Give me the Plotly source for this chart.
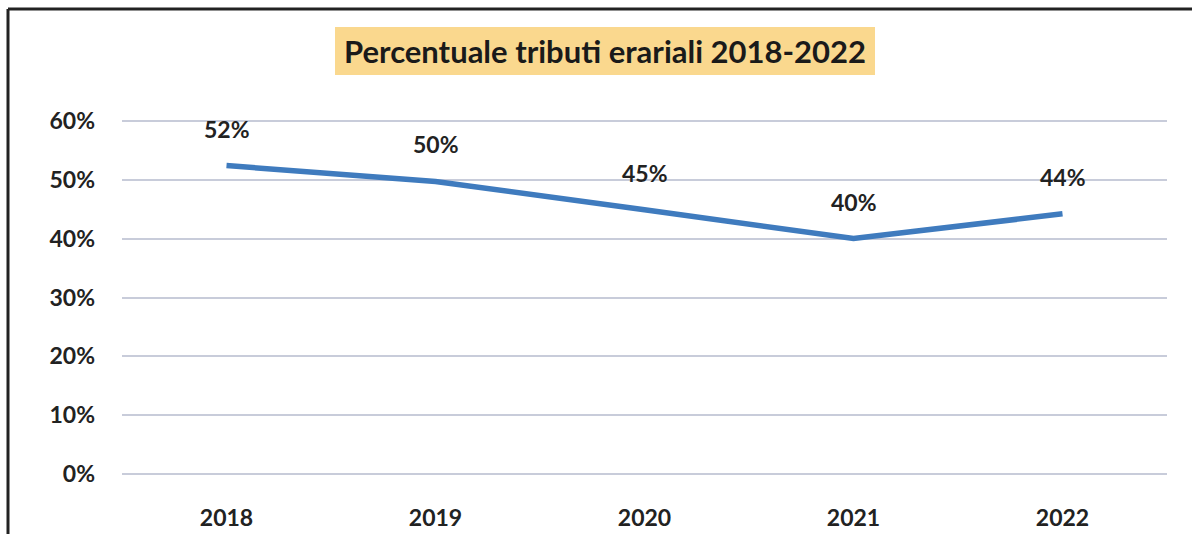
import plotly.graph_objects as go

years = ["2018", "2019", "2020", "2021", "2022"]
values = [0.524, 0.497, 0.449, 0.400, 0.442]
labels = ["52%", "50%", "45%", "40%", "44%"]
y_ticks = [0, 0.1, 0.2, 0.3, 0.4, 0.5, 0.6]
y_tick_text = ["0%", "10%", "20%", "30%", "40%", "50%", "60%"]
title_text = "Percentuale tributi erariali 2018-2022"

W, H = 1192, 534
L, R, T, B = 122, 25, 119, 58
pw, ph = W - L - R, H - T - B

def px_x(x):
    return (x - L) / pw

def px_y(y):
    return 1 + (T - y) / ph

FONT = "Lato, Calibri, Arial, sans-serif"
TXT = "#222222"

fig = go.Figure()
fig.add_trace(go.Scatter(
    x=years, y=values, mode="lines",
    line=dict(color="#3F7BBE", width=5.5),
    hoverinfo="skip", showlegend=False,
))

for i, (yv, t) in enumerate(zip(values, labels)):
    fig.add_annotation(x=i, y=yv, xref="x", yref="y", text=f"<b>{t}</b>",
                       showarrow=False, yshift=37,
                       font=dict(family=FONT, size=23, color=TXT))

# title box
fig.add_shape(type="rect", xref="paper", yref="paper",
              x0=px_x(335), x1=px_x(875), y0=px_y(75), y1=px_y(27),
              fillcolor="#FAD88E", line=dict(width=0), layer="below")
fig.add_annotation(xref="paper", yref="paper", x=px_x(605), y=px_y(51),
                   text=f"<b>{title_text}</b>", showarrow=False,
                   xanchor="center", yanchor="middle",
                   font=dict(family=FONT, size=31, color="#1a1a1a"))

# frame (top and left)
fig.add_shape(type="line", xref="paper", yref="paper",
              x0=px_x(8), x1=px_x(1200), y0=px_y(9), y1=px_y(9),
              line=dict(color="#222222", width=3))
fig.add_shape(type="line", xref="paper", yref="paper",
              x0=px_x(8), x1=px_x(8), y0=px_y(9), y1=px_y(540),
              line=dict(color="#222222", width=3))

fig.update_layout(
    width=W, height=H,
    margin=dict(l=L, r=R, t=T, b=B, autoexpand=False),
    paper_bgcolor="white", plot_bgcolor="white",
    showlegend=False,
)
fig.update_xaxes(
    type="category", range=[-0.5, 4.5], showgrid=False, zeroline=False,
    showline=False, ticks="", ticklabelstandoff=26, automargin=False,
    tickfont=dict(family=FONT, size=23, color=TXT),
    tickvals=years, ticktext=[f"<b>{y}</b>" for y in years],
)
fig.update_yaxes(
    range=[-0.003, 0.603], tickvals=y_ticks, ticktext=[f"<b>{t}</b>" for t in y_tick_text],
    showgrid=True, gridcolor="#C8CCDA", gridwidth=2, zeroline=False,
    showline=False, ticks="", ticklabelstandoff=26, automargin=False,
    tickfont=dict(family=FONT, size=23, color=TXT),
)

post = (
    "document.documentElement.style.margin='0';"
    "document.body.style.margin='0';"
    "document.documentElement.style.overflow='hidden';"
    "document.body.style.overflow='hidden';"
    "var gd=document.getElementById('{plot_id}');"
    "var p=gd.parentElement;p.style.position='fixed';p.style.top='0';p.style.left='0';"
    "p.style.width='1192px';p.style.height='534px';"
)
fig.write_html("out.html", config={"displayModeBar": False}, post_script=post)
